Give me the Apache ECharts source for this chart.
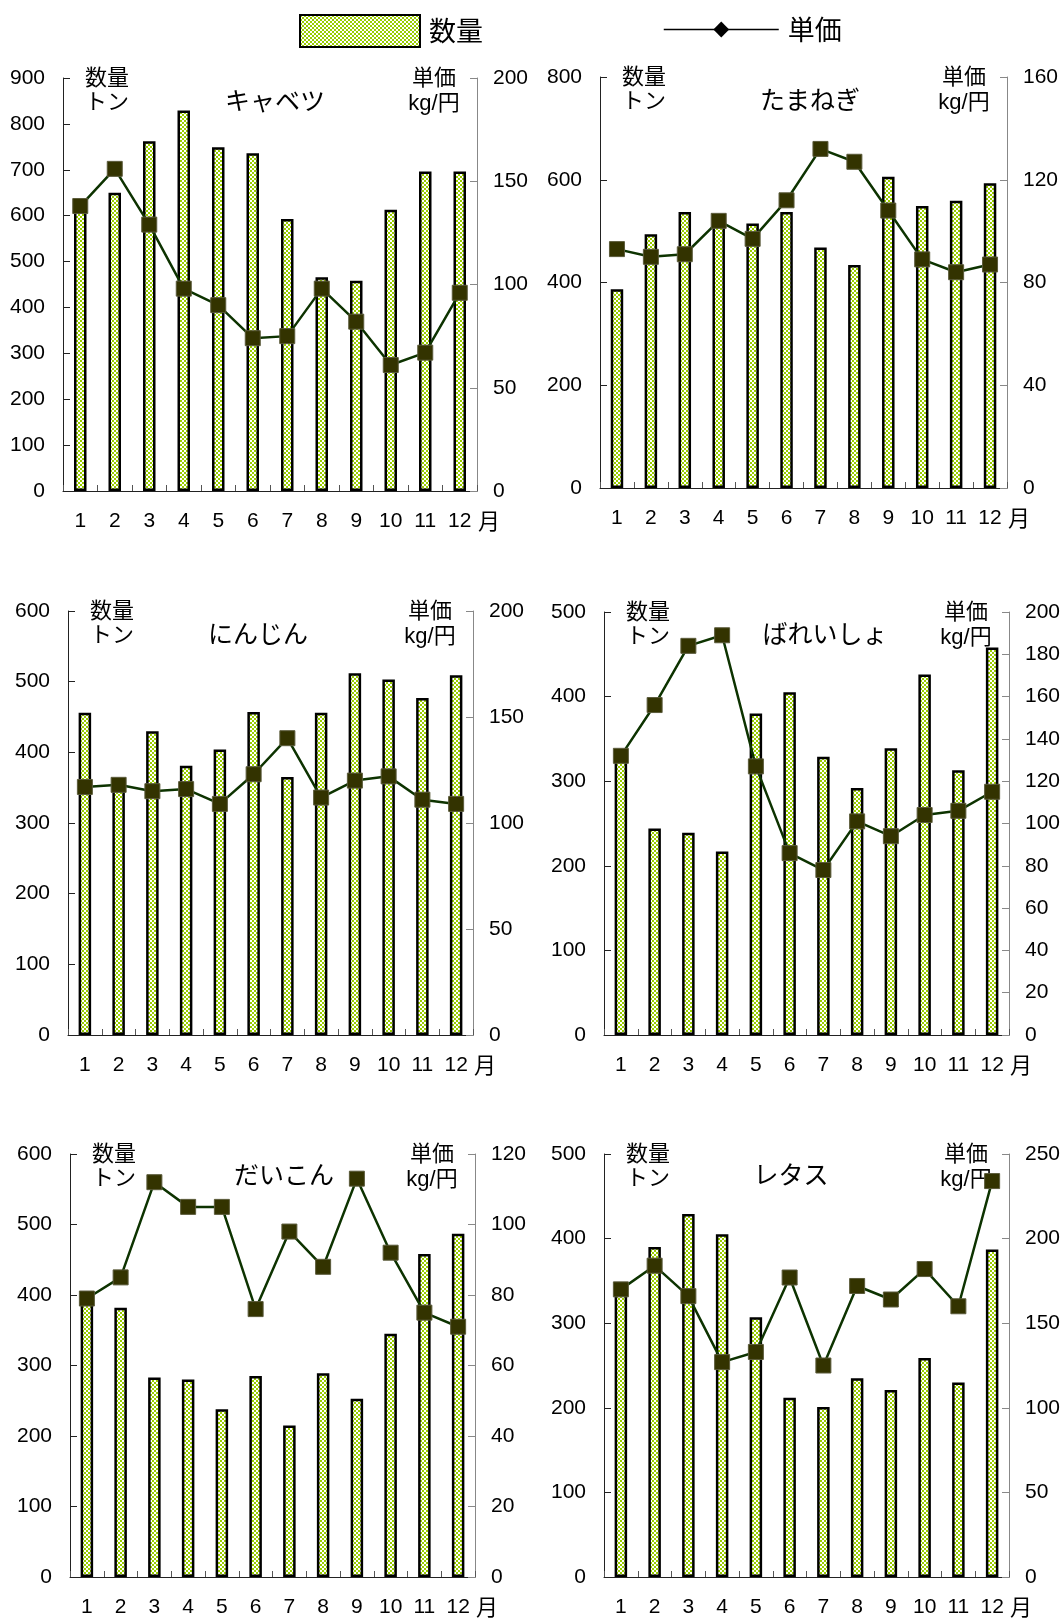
<!DOCTYPE html>
<html>
<head>
<meta charset="utf-8">
<script src="https://cdn.jsdelivr.net/npm/echarts@6/dist/echarts.min.js"></script>
<style>
html, body { margin: 0; padding: 0; background: #fff; }
#chart { width: 1064px; height: 1619px; }
</style>
</head>
<body>
<div id="chart"></div>
<script>
// 月
const months = ['1', '2', '3', '4', '5', '6', '7', '8', '9', '10', '11', '12'];

// 数量(トン) と 単価(円/kg)
const cabbageQty = [615, 650, 762, 829, 749, 736, 593, 466, 458, 613, 696, 696];
const cabbagePrice = [138, 156, 129, 98, 90, 74, 75, 98, 82, 61, 67, 96];
const onionQty = [387, 494, 537, 515, 515, 537, 468, 434, 606, 549, 559, 593];
const onionPrice = [93, 90, 91, 104, 97, 112, 132, 127, 108, 89, 84, 87];
const carrotQty = [456, 350, 430, 381, 404, 457, 365, 456, 512, 503, 477, 509];
const carrotPrice = [117, 118, 115, 116, 109, 123, 140, 112, 120, 122, 111, 109];
const potatoQty = [328, 244, 239, 217, 380, 405, 329, 292, 339, 426, 313, 458];
const potatoPrice = [132, 156, 184, 189, 127, 86, 78, 101, 94, 104, 106, 115];
const radishQty = [392, 382, 283, 280, 238, 285, 215, 289, 253, 345, 458, 487];
const radishPrice = [79, 85, 112, 105, 105, 76, 98, 88, 113, 92, 75, 71];
const lettuceQty = [340, 390, 429, 405, 307, 212, 201, 235, 221, 259, 230, 387];
const lettucePrice = [170, 184, 166, 127, 133, 177, 125, 172, 164, 182, 160, 234];

// 軸の範囲
const qtyMax = [900, 800, 600, 500, 600, 500];
const qtyStep = [100, 200, 100, 100, 100, 100];
const priceMax = [200, 160, 200, 200, 120, 250];
const priceStep = [50, 40, 50, 20, 20, 50];

const titles = ['キャベツ', 'たまねぎ', 'にんじん', 'ばれいしょ', 'だいこん', 'レタス'];
const qtyList = [cabbageQty, onionQty, carrotQty, potatoQty, radishQty, lettuceQty];
const priceList = [cabbagePrice, onionPrice, carrotPrice, potatoPrice, radishPrice, lettucePrice];

// レイアウト (tx, ty はタイトルの中心)
const grids = [
	{ left: 63, top: 78, width: 414, height: 413, tx: 275, ty: 100 },
	{ left: 600, top: 77, width: 407, height: 411, tx: 810, ty: 99 },
	{ left: 68, top: 611, width: 405, height: 424, tx: 258, ty: 633 },
	{ left: 604, top: 612, width: 405, height: 423, tx: 825, ty: 633 },
	{ left: 70, top: 1154, width: 405, height: 423, tx: 284, ty: 1174 },
	{ left: 604, top: 1154, width: 405, height: 423, tx: 791, ty: 1174 },
];

const numFont = '"Liberation Sans", Arial, "Noto Sans CJK JP", sans-serif';
const jpFont = '"Noto Sans CJK JP", "Liberation Sans", sans-serif';
const axisColor = '#222';
const rightAxisColor = '#888';

function makeChecker() {
	const c = document.createElement('canvas');
	c.width = 4;
	c.height = 4;
	const ctx = c.getContext('2d');
	ctx.fillStyle = '#ffffff';
	ctx.fillRect(0, 0, 4, 4);
	ctx.fillStyle = '#99cc00';
	ctx.fillRect(0, 0, 2, 2);
	ctx.fillRect(2, 2, 2, 2);
	return c;
}
const checker = { image: makeChecker(), repeat: 'repeat' };

function text(str, x, y, size, font) {
	return {
		type: 'text',
		x: x,
		y: y,
		silent: true,
		style: {
			text: str,
			fontSize: size,
			fontFamily: font,
			fill: '#000',
			textAlign: 'center',
			textVerticalAlign: 'middle',
		},
	};
}

const option = {
	animation: false,
	backgroundColor: '#fff',
	legend: [
		{
			data: [{ name: '数量', icon: 'rect' }],
			left: 294,
			top: 9,
			itemWidth: 120,
			itemHeight: 32,
			selectedMode: false,
			textStyle: { fontSize: 27, fontFamily: jpFont, color: '#000', padding: [0, 0, 0, 4] },
		},
		{
			data: ['単価'],
			left: 658,
			top: 11,
			itemWidth: 115,
			itemHeight: 14,
			symbolRotate: 45,
			selectedMode: false,
			lineStyle: { color: '#000', width: 1.5 },
			itemStyle: { color: '#000', borderWidth: 0 },
			textStyle: { fontSize: 27, fontFamily: jpFont, color: '#000', padding: [0, 0, 0, 4] },
		},
	],
	grid: [],
	xAxis: [],
	yAxis: [],
	series: [],
	graphic: { elements: [] },
};

grids.forEach((g, i) => {
	option.grid.push({ left: g.left, top: g.top, width: g.width, height: g.height });
	option.xAxis.push({
		type: 'category',
		gridIndex: i,
		data: months,
		axisLine: { lineStyle: { color: axisColor, width: 1 } },
		axisTick: { show: true, inside: true, length: 6, lineStyle: { color: '#555' } },
		axisLabel: { margin: 20, fontSize: 21, fontFamily: numFont, color: '#000' },
	});
	option.yAxis.push({
		type: 'value',
		gridIndex: i,
		min: 0,
		max: qtyMax[i],
		interval: qtyStep[i],
		axisLine: { show: true, lineStyle: { color: axisColor, width: 1 } },
		axisTick: { show: true, inside: true, length: 7, lineStyle: { color: axisColor } },
		axisLabel: { margin: 18, fontSize: 21, fontFamily: numFont, color: '#000' },
		splitLine: { show: false },
	});
	option.yAxis.push({
		type: 'value',
		gridIndex: i,
		position: 'right',
		min: 0,
		max: priceMax[i],
		interval: priceStep[i],
		axisLine: { show: true, lineStyle: { color: rightAxisColor, width: 1 } },
		axisTick: { show: true, inside: true, length: 7, lineStyle: { color: rightAxisColor } },
		axisLabel: { margin: 16, fontSize: 21, fontFamily: numFont, color: '#000' },
		splitLine: { show: false },
	});
	option.series.push({
		name: '数量',
		type: 'bar',
		xAxisIndex: i,
		yAxisIndex: i * 2,
		barWidth: 12.5,
		itemStyle: { color: checker, borderColor: '#000', borderWidth: 2.5 },
		data: qtyList[i],
	});
	option.series.push({
		name: '単価',
		type: 'line',
		xAxisIndex: i,
		yAxisIndex: i * 2 + 1,
		symbol: 'rect',
		symbolSize: 15,
		itemStyle: { color: '#333300', borderColor: '#5a5a3a', borderWidth: 1 },
		lineStyle: { color: '#0d3300', width: 2.5 },
		data: priceList[i],
	});

	const right = g.left + g.width;
	const bottom = g.top + g.height;
	const els = option.graphic.elements;
	els.push(text(titles[i], g.tx, g.ty, 25, jpFont));
	els.push(text('数量', g.left + 44, g.top - 1, 22, jpFont));
	els.push(text('トン', g.left + 44, g.top + 23, 22, jpFont));
	els.push(text('単価', right - 43, g.top - 1, 22, jpFont));
	els.push(text('kg/円', right - 43, g.top + 26, 22, numFont));
	els.push(text('月', right + 12, bottom + 30, 22, jpFont));
});

const chart = echarts.init(document.getElementById('chart'));
chart.setOption(option);
</script>
</body>
</html>
